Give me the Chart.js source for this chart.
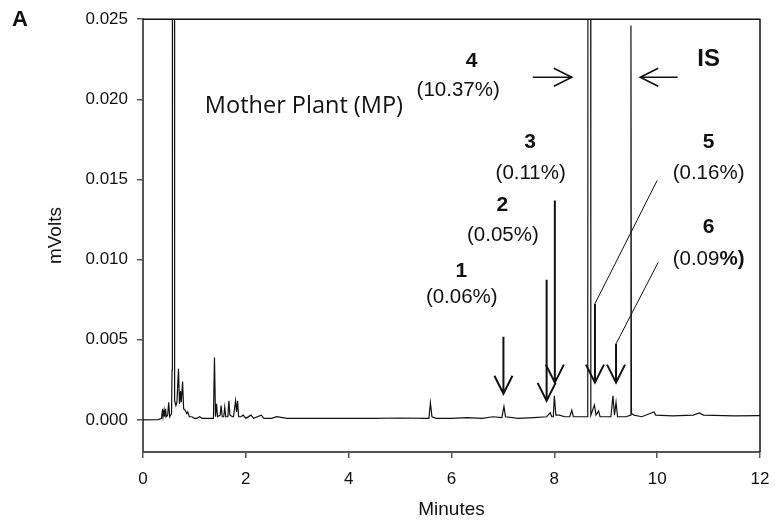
<!DOCTYPE html>
<html>
<head>
<meta charset="utf-8">
<script src="https://cdn.jsdelivr.net/npm/chart.js@4.4.1/dist/chart.umd.min.js"></script>
<style>
  html, body { margin: 0; padding: 0; background: #fff; }
  #wrap { width: 775px; height: 525px; }
</style>
</head>
<body>
<div id="wrap"><canvas id="chromChart" width="775" height="525"></canvas></div>
<script>
// --- Chromatogram trace ---
const minutes = [
  0.00, 0.30, 0.36, 0.38, 0.39, 0.41, 0.42, 0.44, 0.45, 0.48, 0.50, 0.52, 0.555, 0.565, 0.572, 0.608, 0.615,
  0.64, 0.66, 0.69, 0.71, 0.73, 0.745, 0.77, 0.79, 0.82, 0.85, 0.87, 0.90, 0.95, 1.00, 1.05, 1.10, 1.15,
  1.20, 1.30, 1.37, 1.39, 1.41, 1.43, 1.45, 1.50, 1.52, 1.54, 1.57, 1.59, 1.61, 1.65, 1.67, 1.69, 1.74,
  1.76, 1.80, 1.82, 1.84, 1.86, 1.90, 1.95, 2.00, 2.10, 2.15, 2.30, 2.35, 2.50, 2.60, 2.80, 3.00, 3.50,
  4.00, 4.50, 5.00, 5.50, 5.56, 5.59, 5.62, 5.70, 6.00, 6.30, 6.60, 6.80, 6.98, 7.02, 7.05, 7.30, 7.60,
  7.85, 7.92, 7.95, 7.98, 8.00, 8.03, 8.10, 8.20, 8.30, 8.34, 8.37, 8.50, 8.65, 8.66, 8.70, 8.71, 8.78,
  8.81, 8.86, 8.89, 9.00, 9.10, 9.14, 9.17, 9.20, 9.23, 9.40, 9.48, 9.49, 9.50, 9.55, 9.70, 9.94, 9.97,
  10.30, 10.70, 10.82, 10.90, 11.50, 12.00
];
const mvolts = [
  0.0000, 0.00002, 0.0001, 0.0007, 0.0002, 0.0006, 0.0002, 0.0007, 0.0002, 0.0003, 0.0011, 0.0002, 0.0004, 0.0031, 0.08, 0.08, 0.0012,
  0.0009, 0.0011, 0.0032, 0.0010, 0.0018, 0.0011, 0.0024, 0.0007, 0.0006, 0.0004, 0.0005, 0.0002, 0.0002, 0.0001, 0.0001, 0.0002, 0.0001,
  0.0001, 0.0001, 0.0001, 0.0039, 0.0002, 0.0010, 0.0002, 0.0003, 0.0009, 0.0002, 0.0002, 0.0008, 0.0002, 0.0002, 0.0012, 0.0003, 0.0002,
  0.0002, 0.0012, 0.0005, 0.0012, 0.0002, 0.0002, 0.0003, 0.0001, 0.0003, 0.0001, 0.0003, 0.0001, 0.0001, 0.0002, 0.0001, 0.0001, 0.0001,
  0.0001, 0.0001, 0.00012, 0.0001, 0.0001, 0.00106, 0.0002, 0.0001, 0.0001, 0.00015, 0.0001, 0.0002, 0.00015, 0.00085, 0.0002, 0.0001, 0.00015,
  0.0002, 0.00045, 0.0002, 0.0002, 0.0015, 0.0003, 0.0003, 0.0002, 0.0002, 0.0006, 0.0002, 0.0002, 0.0002, 0.08, 0.08, 0.0003, 0.00094,
  0.0003, 0.00056, 0.0002, 0.0002, 0.0002, 0.0015, 0.0003, 0.0011, 0.0002, 0.0002, 0.0003, 0.0246, 0.0004, 0.0003, 0.0002, 0.0005, 0.0003,
  0.00025, 0.0003, 0.00044, 0.0003, 0.00025, 0.00027
];

// axis ticks
const xTicks = [0, 2, 4, 6, 8, 10, 12];
const yTicks = [0.000, 0.005, 0.010, 0.015, 0.020, 0.025];

// peak labels
const peakNames = ['1', '2', '3', '4', '5', '6'];
const peakShares = ['(0.06%)', '(0.05%)', '(0.11%)', '(10.37%)', '(0.16%)', '(0.09%)'];

// --- Annotation layout (data units) ---
const nameAt = [[6.19, 0.00928], [6.99, 0.01341], [7.53, 0.01734], [6.39, 0.02238], [11.0, 0.01734], [11.0, 0.01203]];
const shareAt = [[6.20, 0.00763], [7.00, 0.01150], [7.54, 0.01541], [6.13, 0.02056], [11.0, 0.01541], [11.0, 0.01003]];
// vertical arrows: x, top y, tip y
const downArrows = [[7.01, 0.00519, 0.00163], [7.85, 0.00875, 0.00119], [8.01, 0.01369, 0.00233],
                    [8.79, 0.00725, 0.00233], [9.20, 0.00475, 0.00233]];
const leaders = [[10.00, 0.01494, 8.79, 0.00725], [10.02, 0.00983, 9.20, 0.00475]];

const FAMILY = '"Liberation Sans", Arial, sans-serif';
const BOLD = 'bold 21px ' + FAMILY;
const REG = '20.5px ' + FAMILY;
const REG_BOLD = 'bold 20.5px ' + FAMILY;

function drawArrow(ctx, x1, y1, x2, y2) {
    const ang = Math.atan2(y2 - y1, x2 - x1);
    const len = 18, half = 9;
    ctx.beginPath();
    ctx.moveTo(x1, y1);
    ctx.lineTo(x2, y2);
    const bx = x2 - len * Math.cos(ang), by = y2 - len * Math.sin(ang);
    const px = -Math.sin(ang) * half, py = Math.cos(ang) * half;
    ctx.moveTo(bx + px, by + py);
    ctx.lineTo(x2, y2);
    ctx.lineTo(bx - px, by - py);
    ctx.stroke();
}

const notesPlugin = {
    id: 'peakNotes',
    afterDatasetsDraw(chart) {
        const { ctx, scales: { x, y }, chartArea } = chart;
        const px = v => x.getPixelForValue(v);
        const py = v => y.getPixelForValue(v);
        ctx.save();

        // box top + right
        ctx.strokeStyle = '#111';
        ctx.lineWidth = 1.5;
        ctx.beginPath();
        ctx.moveTo(chartArea.left, chartArea.top);
        ctx.lineTo(chartArea.right, chartArea.top);
        ctx.lineTo(chartArea.right, chartArea.bottom);
        ctx.stroke();

        ctx.fillStyle = '#111';
        ctx.textAlign = 'center';
        ctx.textBaseline = 'middle';

        peakNames.forEach((n, i) => {
            ctx.font = BOLD;
            ctx.fillText(n, px(nameAt[i][0]), py(nameAt[i][1]));
            if (n === '6') {
                // "%)" is bold in the source
                const a = '(0.09', b = '%)';
                ctx.font = REG;
                const wa = ctx.measureText(a).width;
                ctx.font = REG_BOLD;
                const wb = ctx.measureText(b).width;
                const sx = px(shareAt[i][0]) - (wa + wb) / 2;
                ctx.textAlign = 'left';
                ctx.font = REG;
                ctx.fillText(a, sx, py(shareAt[i][1]));
                ctx.font = REG_BOLD;
                ctx.fillText(b, sx + wa, py(shareAt[i][1]));
                ctx.textAlign = 'center';
            } else {
                ctx.font = REG;
                ctx.fillText(peakShares[i], px(shareAt[i][0]), py(shareAt[i][1]));
            }
        });

        ctx.font = 'bold 24px ' + FAMILY;
        ctx.fillText('IS', px(11.0), py(0.0225));

        ctx.font = '23.5px "Open Sans", "Noto Sans", sans-serif';
        ctx.fillText('Mother Plant (MP)', px(3.13), py(0.01956));

        // arrows
        ctx.strokeStyle = '#111';
        ctx.lineWidth = 2;
        downArrows.forEach(a => drawArrow(ctx, px(a[0]), py(a[1]), px(a[0]), py(a[2])));
        ctx.lineWidth = 1.6;
        drawArrow(ctx, px(7.58), py(0.02138), px(8.34), py(0.02138));
        drawArrow(ctx, px(10.40), py(0.02138), px(9.67), py(0.02138));

        ctx.lineWidth = 1;
        leaders.forEach(l => {
            ctx.beginPath();
            ctx.moveTo(px(l[0]), py(l[1]));
            ctx.lineTo(px(l[2]), py(l[3]));
            ctx.stroke();
        });

        // panel letter
        ctx.font = 'bold 22px ' + FAMILY;
        ctx.textAlign = 'left';
        ctx.fillText('A', 12, 20);
        ctx.restore();
    }
};

const tickFont = { family: FAMILY, size: 17 };
const titleFont = { family: FAMILY, size: 19 };

new Chart(document.getElementById('chromChart'), {
    type: 'line',
    data: {
        datasets: [{
            data: minutes.map((m, i) => ({ x: m, y: mvolts[i] })),
            borderColor: '#111',
            borderWidth: 1.2,
            pointRadius: 0,
            tension: 0,
            fill: false
        }]
    },
    options: {
        responsive: false,
        animation: false,
        devicePixelRatio: 1,
        layout: { padding: { top: 19, right: 15, left: 0, bottom: 0 } },
        plugins: { legend: { display: false }, tooltip: { enabled: false } },
        scales: {
            x: {
                type: 'linear',
                min: 0,
                max: 12,
                afterBuildTicks: axis => { axis.ticks = xTicks.map(v => ({ value: v })); },
                afterFit: scale => {
                    scale.height = 73;
                    scale.paddingLeft = 0;
                    scale.paddingRight = 0;
                },
                ticks: { font: tickFont, color: '#111', padding: 11, maxRotation: 0,
                         callback: v => String(v) },
                grid: { drawOnChartArea: false, drawTicks: true, tickLength: 6, color: '#555', lineWidth: 1.5 },
                border: { display: true, color: '#555', width: 2 },
                title: { display: true, text: 'Minutes', font: titleFont, color: '#111', padding: { top: 0, bottom: 4 } }
            },
            y: {
                min: -0.002,
                max: 0.025,
                afterBuildTicks: axis => { axis.ticks = yTicks.map(v => ({ value: v })); },
                afterFit: scale => { scale.width = 143; },
                ticks: { font: tickFont, color: '#111', padding: 9,
                         callback: v => v.toFixed(3) },
                grid: { drawOnChartArea: false, drawTicks: true, tickLength: 6, color: '#555', lineWidth: 1.5 },
                border: { display: true, color: '#555', width: 2 },
                title: { display: true, text: 'mVolts', font: titleFont, color: '#111', padding: { top: 44, bottom: 0 } }
            }
        }
    },
    plugins: [notesPlugin]
});
</script>
</body>
</html>
